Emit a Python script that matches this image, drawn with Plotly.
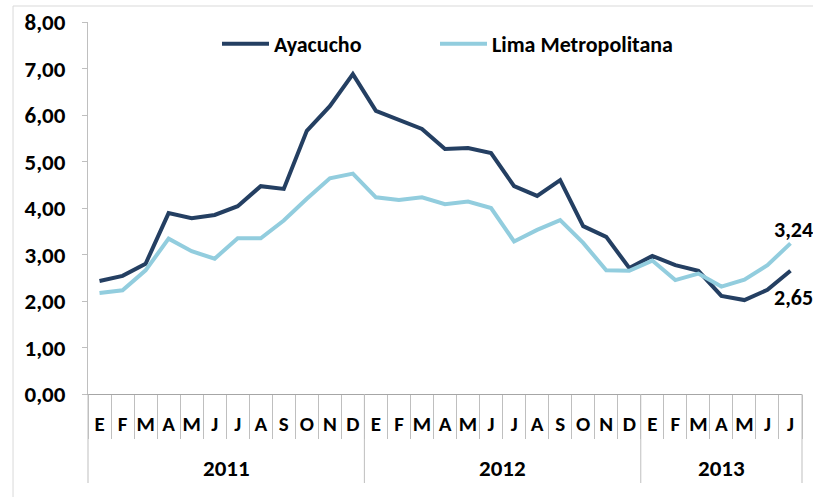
import plotly.graph_objects as go

# ---- data ----
years = ["2011"] * 12 + ["2012"] * 12 + ["2013"] * 7
months = ["E", "F", "M", "A", "M", "J", "J", "A", "S", "O", "N", "D",
          "E", "F", "M", "A", "M", "J", "J", "A", "S", "O", "N", "D",
          "E", "F", "M", "A", "M", "J", "J"]
ayacucho = [2.43, 2.54, 2.80, 3.89, 3.78, 3.85, 4.04, 4.47, 4.41, 5.66, 6.19, 6.88,
            6.09, 5.89, 5.70, 5.27, 5.29, 5.18, 4.47, 4.26, 4.60, 3.61, 3.38, 2.71,
            2.97, 2.77, 2.65, 2.11, 2.02, 2.24, 2.65]
lima = [2.17, 2.23, 2.66, 3.34, 3.07, 2.91, 3.35, 3.35, 3.73, 4.20, 4.64, 4.74,
        4.23, 4.17, 4.23, 4.08, 4.14, 4.00, 3.28, 3.53, 3.74, 3.25, 2.66, 2.65,
        2.87, 2.45, 2.59, 2.31, 2.46, 2.77, 3.24]
series_names = ["Ayacucho", "Lima Metropolitana"]
title_text = "Porcentual Anualizada del IPC"

DARK = "#243F62"
LIGHT = "#92CDDE"
FONT = "Carlito, Lato, sans-serif"
GRID = "#BFBFBF"

# unique category keys (year + month index), displayed as month letters
keys = [f"{y}-{i:02d}" for i, y in enumerate(years)]

fig = go.Figure()
fig.add_trace(go.Scatter(x=keys, y=ayacucho, name=f"<b>{series_names[0]}</b>", mode="lines",
                         line=dict(color=DARK, width=4), legendwidth=156))
fig.add_trace(go.Scatter(x=keys, y=lima, name=f"<b>{series_names[1]}</b>", mode="lines",
                         line=dict(color=LIGHT, width=4), legendwidth=200))

def fmt(v):
    return f"{v:.2f}".replace(".", ",")

last = len(months) - 1
fig.add_annotation(x=last, y=lima[-1], text=f"<b>{fmt(lima[-1])}</b>", showarrow=False,
                   xanchor="left", xshift=-18, yshift=14, font=dict(family=FONT, size=22, color="#000000"))
fig.add_annotation(x=last, y=ayacucho[-1], text=f"<b>{fmt(ayacucho[-1])}</b>", showarrow=False,
                   xanchor="left", xshift=-18, yshift=-27, font=dict(family=FONT, size=22, color="#000000"))

# year group labels and separators (second category level)
SEP_DEPTH = -89 / 372
uniq_years = []
for y in years:
    if y not in uniq_years:
        uniq_years.append(y)
for yr in uniq_years:
    idx = [i for i, y in enumerate(years) if y == yr]
    fig.add_annotation(x=(idx[0] + idx[-1]) / 2, y=-74 / 372, xref="x", yref="paper", yanchor="middle",
                       text=f"<b>{yr}</b>", showarrow=False,
                       font=dict(family=FONT, size=23, color="#000000"))
    if idx[0] > 0:
        fig.add_shape(type="line", xref="x", yref="paper", x0=idx[0] - 0.5, x1=idx[0] - 0.5,
                      y0=0, y1=SEP_DEPTH, line=dict(color=GRID, width=1))
for xe in (0, 1):
    fig.add_shape(type="line", xref="paper", yref="paper", x0=xe, x1=xe, y0=0, y1=SEP_DEPTH,
                  line=dict(color=GRID, width=1))

# cut-off title at the very top (as in the source image)
fig.add_annotation(x=0.4636, y=1.037, xref="paper", yref="paper", yanchor="bottom",
                   text=f"<b>{title_text}</b>", showarrow=False,
                   font=dict(family="Liberation Sans, Arial, sans-serif", size=29, color="#1F3864"))

# outer chart-area border
fig.add_shape(type="rect", xref="paper", yref="paper", x0=-0.105, x1=1.3, y0=-0.5, y1=1.043,
              line=dict(color="#D9D9D9", width=1), layer="below")

fig.update_layout(
    width=813, height=497,
    margin=dict(l=88, r=11, t=22, b=103),
    paper_bgcolor="white", plot_bgcolor="white",
    separators=",.",
    showlegend=True,
    legend=dict(orientation="h", x=(225 - 88 - 8) / 714, xanchor="left", y=0.941, yanchor="middle",
                font=dict(family=FONT, size=22, color="#000000"), itemwidth=47,
                entrywidthmode="pixels",
                bgcolor="rgba(0,0,0,0)", traceorder="normal"),
    font=dict(family=FONT, color="#000000"),
)
fig.update_xaxes(type="category", categoryorder="array", categoryarray=keys,
                 tickmode="array", tickvals=keys, ticktext=[f"<b>{m}</b>" for m in months],
                 range=[-0.5, len(keys) - 0.5], automargin=False,
                 showline=True, linecolor="#A6A6A6", linewidth=1,
                 ticks="outside", ticklen=44, tickcolor=GRID, tickson="boundaries",
                 ticklabelstandoff=11,
                 showgrid=False, tickfont=dict(family=FONT, size=21, color="#000000"), tickangle=0)
fig.update_yaxes(range=[0, 8], dtick=1, tickformat=".2f", showline=True, linecolor=GRID,
                 linewidth=1, ticks="outside", ticklen=5, tickcolor=GRID, showgrid=False,
                 zeroline=False, ticklabelstandoff=12, automargin=False,
                 tickprefix="<b>", ticksuffix="</b>",
                 tickfont=dict(family=FONT, size=23, color="#000000"))

fig.write_html("out.html", config={"displayModeBar": False},
               post_script="document.body.style.margin='0';")
